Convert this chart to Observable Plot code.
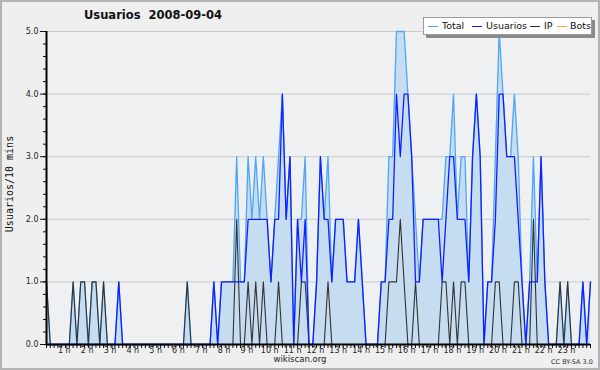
<!DOCTYPE html>
<html>
<head>
<meta charset="utf-8">
<script src="https://cdn.jsdelivr.net/npm/d3@7"></script>
<script src="https://cdn.jsdelivr.net/npm/@observablehq/plot@0.6"></script>
<style>
  html, body { margin: 0; padding: 0; background: #efefef; }
  #wrap { position: relative; width: 600px; height: 370px; background: #efefef; box-sizing: border-box; font-family: "DejaVu Sans", sans-serif; overflow: hidden; }
  #frame { position: absolute; left: 0; top: 0; width: 600px; height: 370px; box-sizing: border-box; border: 2px solid #b3b3b3; pointer-events: none; }
  #chart { position: absolute; left: 0; top: 0; }
  #title { position: absolute; left: 84px; top: 8px; font-size: 11.5px; font-weight: bold; color: #111; white-space: pre; }
  #ylab { position: absolute; left: 9px; top: 184px; font-family: "DejaVu Sans Mono", monospace; font-size: 10px; color: #111; white-space: nowrap; transform: translate(-50%, -50%) rotate(-90deg); }
  #legend { position: absolute; left: 423px; top: 17px; width: 167px; height: 16px; background: #fff; border: 1px solid #9a9a9a; box-shadow: 3px 3px 0 #8a8a8a; font-size: 9.5px; color: #111; white-space: nowrap; }
  #legend span.sw { position: absolute; top: 8px; width: 10px; height: 1px; }
  #legend span.lb { position: absolute; top: 2px; }
  #foot { position: absolute; left: 0; width: 600px; top: 354px; text-align: center; font-size: 8.5px; color: #222; }
  #cc { position: absolute; left: 551px; top: 358px; font-size: 6.5px; color: #333; }
</style>
</head>
<body>
<div id="wrap">
  <div id="chart"></div>
  <div id="title"></div>
  <div id="ylab"></div>
  <div id="legend"></div>
  <div id="foot"></div>
  <div id="cc"></div>
  <div id="frame"></div>
</div>
<script>
// 10-minute slots of the day (index 0..143)
const total = [
  1,0,0,0,0,0,0,1,0,1, 1,0,1,1,0,1,0,0,0,1, 0,0,0,0,0,0,0,0,0,0, 0,0,0,0,0,0,0,1,0,0,
  0,0,0,0,1,0,1,1,1,1, 3,1,1,3,2,3,2,3,2,1, 2,3,4,2,3,0,2,2,3,0, 0,1,3,2,3,1,2,2,2,1,
  1,1,2,1,0,0,0,0,1,1, 3,3,5,5,5,4,3,2,1,2, 2,2,2,2,2,3,3,4,2,3, 3,1,3,4,3,0,1,1,3,5,
  4,3,3,4,3,1,0,1,3,1, 3,1,0,0,0,1,0,1,0,0, 0,1,0,1
];
const usuarios = [
  0,0,0,0,0,0,0,0,0,0, 0,0,0,0,0,0,0,0,0,1, 0,0,0,0,0,0,0,0,0,0, 0,0,0,0,0,0,0,0,0,0,
  0,0,0,0,1,0,1,1,1,1, 1,1,1,2,2,2,2,2,2,1, 2,2,4,2,3,0,2,1,2,0, 0,1,3,2,2,1,2,2,2,1,
  1,1,2,1,0,0,0,0,1,1, 2,2,4,3,4,4,3,1,1,2, 2,2,2,2,1,2,3,3,2,2, 2,1,3,4,3,0,1,1,2,4,
  4,3,3,3,2,1,0,1,1,1, 3,1,0,0,0,0,0,0,0,0, 0,1,0,1
];
const ip = [
  1,0,0,0,0,0,0,1,0,1, 1,0,1,1,0,1,0,0,0,0, 0,0,0,0,0,0,0,0,0,0, 0,0,0,0,0,0,0,1,0,0,
  0,0,0,0,0,0,0,0,0,0, 2,0,0,1,0,1,0,1,0,0, 0,1,0,0,0,0,0,1,1,0, 0,0,0,0,1,0,0,0,0,0,
  0,0,0,0,0,0,0,0,0,0, 1,1,1,2,1,0,0,1,0,0, 0,0,0,0,1,1,0,1,0,1, 1,0,0,0,0,0,0,0,1,1,
  0,0,0,1,1,0,0,0,2,0, 0,0,0,0,0,1,0,1,0,0, 0,0,0,0
];
const bots = [
  0,0,0,0,0,0,0,0,0,0, 0,0,0,0,0,0,0,0,0,0, 0,0,0,0,0,0,0,0,0,0, 0,0,0,0,0,0,0,0,0,0,
  0,0,0,0,0,0,0,0,0,0, 0,0,0,0,0,0,0,0,0,0, 0,0,0,0,0,0,0,0,0,0, 0,0,0,0,0,0,0,0,0,0,
  0,0,0,0,0,0,0,0,0,0, 0,0,0,0,0,0,0,0,0,0, 0,0,0,0,0,0,0,0,0,0, 0,0,0,0,0,0,0,0,0,0,
  0,0,0,0,0,0,0,0,0,0, 0,0,0,0,0,0,0,0,0,0, 0,0,0,0
];
const hourLabels = ["1 h","2 h","3 h","4 h","5 h","6 h","7 h","8 h","9 h","10 h","11 h","12 h",
  "13 h","14 h","15 h","16 h","17 h","18 h","19 h","20 h","21 h","22 h","23 h"];
const yTicks = [0, 1, 2, 3, 4, 5];
const seriesNames = ["Total", "Usuarios", "IP", "Bots"];
const seriesColors = ["#4ea6f5", "#1020ff", "#333333", "#ffa31a"];
const titleText = "Usuarios  2008-09-04";
const yLabel = "Usuarios/10 mins";

const data = total.map((t, i) => ({i, total: t, usuarios: usuarios[i], ip: ip[i], bots: bots[i]}));
const slots = data.map(d => d.i);
const hourSlots = hourLabels.map((_, k) => (k + 1) * 6);

const chart = Plot.plot({
  width: 600, height: 370,
  marginLeft: 46, marginRight: 10, marginTop: 31, marginBottom: 26,
  x: {domain: [0, 143], axis: null, label: null},
  y: {domain: [0, 5], axis: null, label: null},
  style: {background: "transparent", fontFamily: "DejaVu Sans", fontSize: "8px", color: "#222"},
  marks: [
    Plot.frame({fill: "#eef0f2", stroke: null}),
    Plot.ruleY(yTicks.filter(v => v > 0), {stroke: "#cbcbcb"}),
    Plot.areaY(data, {x: "i", y: "total", fill: "#c6dcf0"}),
    Plot.lineY(data, {x: "i", y: "total", stroke: seriesColors[0], strokeWidth: 1.3}),
    Plot.lineY(data, {x: "i", y: "bots", stroke: seriesColors[3], strokeWidth: 1}),
    Plot.lineY(data, {x: "i", y: "ip", stroke: seriesColors[2], strokeWidth: 1.1}),
    Plot.lineY(data, {x: "i", y: "usuarios", stroke: seriesColors[1], strokeWidth: 1.3}),
    Plot.axisY({ticks: d3.range(0, 26).map(k => k / 5), tickSize: 3, tickFormat: () => "", stroke: "#111", label: null}),
    Plot.axisY({ticks: yTicks, tickSize: 6, tickPadding: 2, tickFormat: d3.format(".1f"), stroke: "#111", fill: "#222", label: null}),
    Plot.axisX({ticks: slots, tickSize: 4, tickFormat: () => "", stroke: "#111", label: null}),
    Plot.axisX({ticks: hourSlots, tickSize: 0, tickPadding: 3, dx: -5, label: null,
      tickFormat: d => hourLabels[hourSlots.indexOf(d)], fill: "#222"}),
    Plot.ruleX([0], {stroke: "#000", strokeWidth: 2}),
    Plot.ruleY([0], {stroke: "#000", strokeWidth: 2})
  ]
});
document.getElementById("chart").appendChild(chart);

document.getElementById("title").textContent = titleText;
document.getElementById("ylab").textContent = yLabel;
document.getElementById("foot").textContent = "wikiscan.org";
document.getElementById("cc").textContent = "CC BY-SA 3.0";

const legend = document.getElementById("legend");
const swX = [4, 48, 106, 133];
const lbX = [18, 62, 120, 146];
seriesNames.forEach((name, k) => {
  const sw = document.createElement("span");
  sw.className = "sw"; sw.style.left = swX[k] + "px"; sw.style.background = seriesColors[k];
  legend.appendChild(sw);
  const lb = document.createElement("span");
  lb.className = "lb"; lb.style.left = lbX[k] + "px"; lb.textContent = name;
  legend.appendChild(lb);
});
</script>
</body>
</html>
